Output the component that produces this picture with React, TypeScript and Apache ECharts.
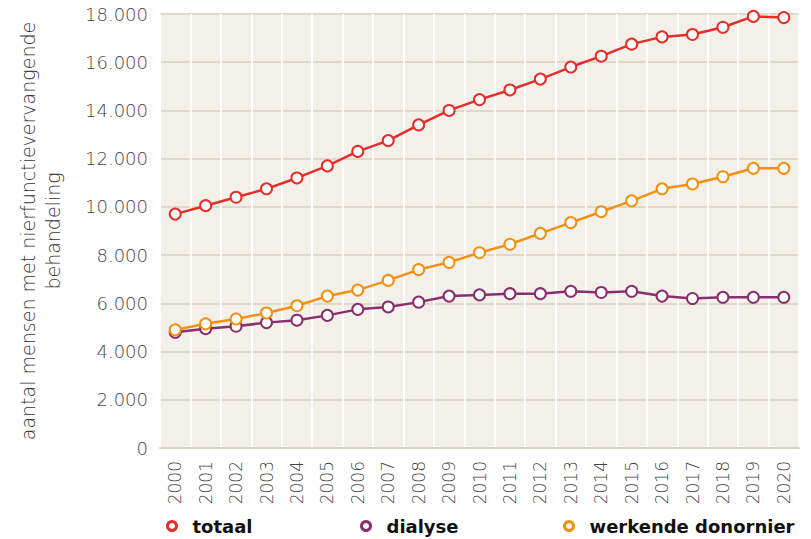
import React, { useEffect, useRef } from "react";
import * as echarts from "echarts";

const years = ["2000","2001","2002","2003","2004","2005","2006","2007","2008","2009","2010","2011","2012","2013","2014","2015","2016","2017","2018","2019","2020"];
const totaal = [9700,10050,10400,10750,11200,11700,12300,12750,13400,14000,14450,14850,15300,15800,16250,16750,17050,17150,17450,17900,17850];
const dialyse = [4800,4950,5050,5200,5300,5500,5750,5850,6050,6300,6350,6400,6400,6500,6450,6500,6300,6200,6250,6250,6250];
const werkende = [4900,5150,5350,5600,5900,6300,6550,6950,7400,7700,8100,8450,8900,9350,9800,10250,10750,10950,11250,11600,11600];

const RED = "#e52e2a";
const PURPLE = "#8a2f6d";
const ORANGE = "#f29111";

export default function App() {
  const ref = useRef<HTMLDivElement>(null);
  useEffect(() => {
    document.body.style.margin = "0";
    const chart = echarts.init(ref.current!, null, { renderer: "svg" });
    const mkSeries = (name: string, data: number[], color: string) => ({
      name,
      type: "line",
      data,
      symbol: "emptyCircle",
      symbolSize: 11,
      lineStyle: { color, width: 2.5 },
      itemStyle: { color, borderColor: color, borderWidth: 2.5 },
    });
    const mkLegend = (name: string, color: string, left: number) => ({
      data: [{ name, itemStyle: { color: "#fff", borderColor: color, borderWidth: 3 } }],
      left,
      top: 512,
      icon: "circle",
      itemWidth: 9,
      itemHeight: 9,
      selectedMode: false,
      textStyle: {
        fontFamily: "DejaVu Sans",
        fontWeight: "bold",
        fontSize: 18,
        color: "#111111",
        padding: [0, 0, 0, 11],
      },
    });
    chart.setOption({
      animation: false,
      grid: {
        left: 160,
        right: 12,
        top: 14,
        bottom: 91,
        show: true,
        backgroundColor: "#f3efe9",
        borderWidth: 0,
      },
      legend: [
        mkLegend("totaal", RED, 161),
        mkLegend("dialyse", PURPLE, 355),
        mkLegend("werkende donornier", ORANGE, 558),
      ],
      xAxis: {
        type: "category",
        data: years,
        boundaryGap: true,
        axisLine: { show: true, lineStyle: { color: "#dcd2c1", width: 2 } },
        axisTick: { show: false },
        splitLine: { show: true, lineStyle: { color: "#ffffff", width: 2 } },
        axisLabel: {
          rotate: 90,
          margin: 13,
          fontFamily: "DejaVu Sans",
          fontWeight: 300,
          fontSize: 17,
          color: "#444444",
          interval: 0,
        },
      },
      yAxis: {
        type: "value",
        min: 0,
        max: 18000,
        interval: 2000,
        name: "aantal mensen met nierfunctievervangende\nbehandeling",
        nameLocation: "middle",
        nameGap: 95,
        nameTextStyle: {
          fontFamily: "DejaVu Sans",
          fontWeight: 300,
          fontSize: 19,
          lineHeight: 25,
          color: "#333333",
        },
        axisLine: { show: false },
        axisTick: { show: false },
        splitLine: { show: true, lineStyle: { color: "#e2d8c7", width: 2 } },
        axisLabel: {
          margin: 12,
          fontFamily: "DejaVu Sans",
          fontWeight: 300,
          fontSize: 18,
          color: "#444444",
          formatter: (v: number) => (v === 0 ? "0" : v.toLocaleString("de-DE")),
        },
      },
      series: [
        mkSeries("dialyse", dialyse, PURPLE),
        mkSeries("werkende donornier", werkende, ORANGE),
        mkSeries("totaal", totaal, RED),
      ],
    });
    return () => chart.dispose();
  }, []);
  return <div ref={ref} style={{ width: 811, height: 539 }} />;
}
